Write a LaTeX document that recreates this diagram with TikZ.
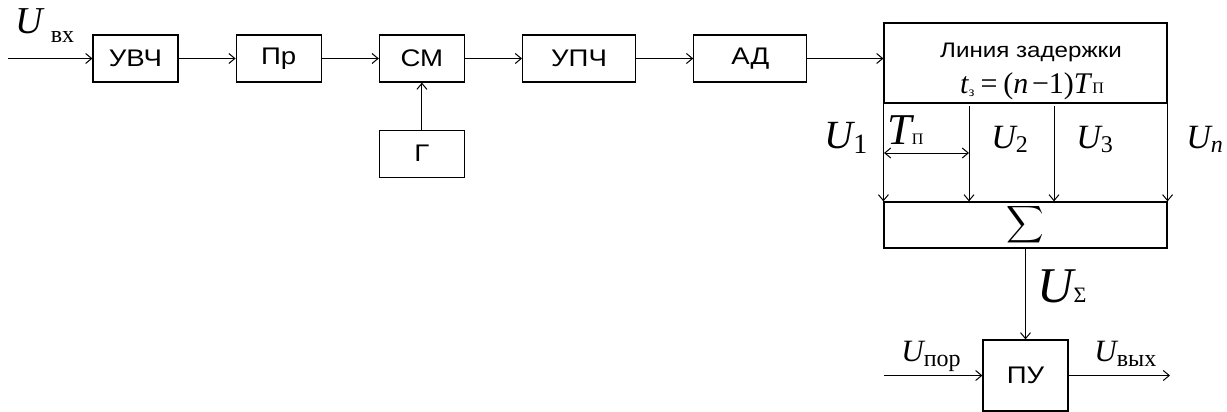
\documentclass[tikz,border=0pt]{standalone}
\usepackage{fontspec}
\setmainfont{Liberation Sans}[FakeStretch=1.15]
\newfontfamily\tms{Liberation Serif}
\usetikzlibrary{arrows.meta, positioning, calc}

% signal label: [sub shift]{main size}{letter}{sub size}{sub}
\newcommand{\sig}[5][0pt]{{\tms\fontsize{#2}{#2}\selectfont\itshape #3}{\tms\fontsize{#4}{#4}\selectfont\raisebox{-#1}{#5}}}

\begin{document}
\begin{tikzpicture}[
  x=0.5pt, y=-0.5pt,
  node distance=23.5pt and 28.5pt,
  blk/.style={rectangle, draw, line width=0.6pt, minimum width=42.5pt, minimum height=23.5pt, inner sep=0pt, font=\fontsize{12}{14}\selectfont},
  wide/.style={blk, minimum width=56.5pt},
  arr/.style={-{Straight Barb[length=3pt,width=5pt]}, line width=0.5pt},
  both/.style={{Straight Barb[length=3pt,width=5pt]}-{Straight Barb[length=3pt,width=5pt]}, line width=0.5pt},
  lbl/.style={anchor=base west, inner sep=0pt}
]
\useasboundingbox (0,0) rectangle (1227,412);

% receiver chain
\node (uvch) [blk] at (135.5,58.5) {УВЧ};
\node (pr) [blk, right=of uvch] {Пр};
\node (sm) [blk, right=of pr] {СМ};
\node (upch) [wide, right=of sm] {УПЧ};
\node (ad) [wide, right=of upch] {АД};
\node (gen) [blk, below=of sm] {Г};

% delay line, adder, threshold device
\node (delay) [blk, minimum width=141.5pt, minimum height=40pt] at (1025.5,63) {};
\node (dltitle) [anchor=base, inner sep=0pt, font=\fontsize{10.5}{12}\selectfont] at (1031,57) {Линия задержки};
\node (dlform) [anchor=base, inner sep=0pt] at (1032,93) {\tms\fontsize{15}{15}\selectfont\textit{t}\raisebox{-1.5pt}{\fontsize{7}{7}\selectfont з}\hspace{0.2em}=\hspace{0.2em}(\textit{n}\hspace{0.12em}−1)\textit{T}{\fontsize{8}{8}\selectfont П}};
\node (sum) [blk, minimum width=141.5pt, minimum height=23pt] at (1025.5,225) {\scalebox{1.3}{$\displaystyle\sum$}};
\node (pu) [blk, minimum height=35.5pt] at (1025.5,375.5) {ПУ};

% taps
\coordinate (tap2) at (969,106);
\coordinate (tap3) at (1054,106);
\coordinate (tpl) at (884,153);
\draw[arr] (delay.south west) -- (sum.north west);
\draw[arr] (tap2) -- (tap2 |- sum.north);
\draw[arr] (tap3) -- (tap3 |- sum.north);
\draw[arr] (delay.south east) -- (sum.north east);
\draw[both] (tpl) -- (tpl -| tap2);

% labels
\node (uin) [lbl] at (15,33) {\sig[4.5pt]{19}{U}{12}{\hspace{4pt}вх}};
\node (u1) [lbl] at (824,148) {\sig[2.5pt]{20}{U}{14}{1}};
\node (tp) [lbl] at (887,144) {\sig{22}{T}{8}{П}};
\node (u2) [lbl] at (991,148) {\sig[2pt]{17}{U}{12}{2}};
\node (u3) [lbl] at (1076,148) {\sig[2pt]{17}{U}{12}{3}};
\node (un) [lbl] at (1186,148) {\sig[2pt]{17}{U}{12}{\textit{n}}};
\node (usum) [lbl] at (1037,302) {\sig{25}{U}{11}{Σ}};
\node (uthr) [lbl] at (901,361) {\sig[2.5pt]{15.5}{U}{12}{пор}};
\node (uout) [lbl] at (1094,361) {\sig[2.5pt]{15.5}{U}{12}{вых}};

% connectors
\coordinate (vin) at (8,58.5);
\coordinate (vthr) at (884,375.5);
\coordinate (vout) at (1170,375.5);
\draw[arr] (vin) -- (uvch);
\draw[arr] (uvch) -- (pr);
\draw[arr] (pr) -- (sm);
\draw[arr] (sm) -- (upch);
\draw[arr] (upch) -- (ad);
\draw[arr] (ad) -- (ad -| delay.west);
\draw[arr] (gen) -- (sm);
\draw[arr] (sum) -- (pu);
\draw[arr] (vthr) -- (pu);
\draw[arr] (pu) -- (vout);

\end{tikzpicture}
\end{document}
